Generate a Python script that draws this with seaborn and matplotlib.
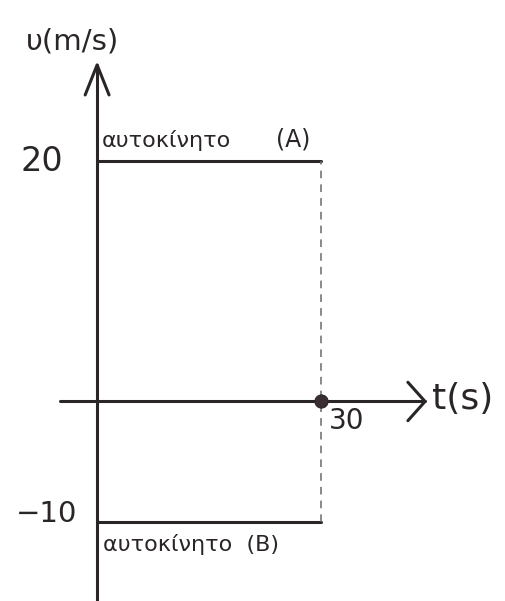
import matplotlib
matplotlib.use("Agg")
import matplotlib.pyplot as plt
import seaborn as sns
import pandas as pd

# Velocity–time data for the two cars
times = [0, 30]
speed_a = [20, 20]      # car A, m/s
speed_b = [-10, -10]    # car B, m/s
car_labels = ["αυτοκίνητο (A)", "αυτοκίνητο (B)"]
y_ticks = [20, -10]
x_ticks = [30]

sns.set_theme(style="white")
plt.rcParams["font.family"] = ["DejaVu Sans"]

df = pd.DataFrame({
    "t": times + times,
    "v": speed_a + speed_b,
    "car": [car_labels[0]] * 2 + [car_labels[1]] * 2,
})

fig = plt.figure(figsize=(5.05, 6.01), dpi=100)
ax = fig.add_axes([0, 0, 1, 1])
ax.set_xlim(-13.0, 54.6)
ax.set_ylim(-16.6, 33.4)
ax.axis("off")

ink = "#2a2526"
lw = 2.2

# Velocity lines
sns.lineplot(data=df, x="t", y="v", units="car", estimator=None,
             color=ink, linewidth=lw, ax=ax, legend=False)

# Time and velocity axes
ax.plot([-5, 43.9], [0, 0], color=ink, lw=lw, solid_capstyle="round")
ax.plot([0, 0], [-17.5, 28.0], color=ink, lw=lw, solid_capstyle="round")
# open arrow heads
ax.plot([41.6, 43.9, 41.6], [1.6, 0, -1.6], color=ink, lw=lw,
        solid_capstyle="round", solid_joinstyle="round")
ax.plot([-1.6, 0, 1.6], [25.5, 28.0, 25.5], color=ink, lw=lw,
        solid_capstyle="round", solid_joinstyle="round")

# Dashed guide at t = 30
ax.plot([x_ticks[0], x_ticks[0]], [speed_b[0], speed_a[0]],
        color="#6a6a6a", lw=1.1, ls=(0, (5, 4)))

# End point on the time axis
sns.scatterplot(x=[x_ticks[0]], y=[0], s=90, color="#3a2f30", ax=ax,
                zorder=5, edgecolor=ink)

# Tick labels
ax.text(-4.6, y_ticks[0], str(y_ticks[0]), ha="right", va="center",
        fontsize=24, color=ink)
ax.text(-2.6, y_ticks[1] + 0.6, "−" + str(abs(y_ticks[1])), ha="right",
        va="center", fontsize=21, color=ink)
ax.text(x_ticks[0] + 1.0, -0.5, str(x_ticks[0]), ha="left", va="top",
        fontsize=20, color=ink)

# Axis titles
ax.text(44.8, 0.2, "t(s)", ha="left", va="center", fontsize=26, color=ink)
ax.text(-3.3, 28.8, "υ(m/s)", ha="center", va="bottom", fontsize=21,
        color=ink)

# Car labels: name next to the line, tag set a little apart
name_a, tag_a = car_labels[0].rsplit(" ", 1)
name_b, tag_b = car_labels[1].rsplit(" ", 1)
ax.text(0.6, speed_a[0] + 0.8, name_a, ha="left", va="bottom",
        fontsize=16, color=ink)
ax.text(24.0, speed_a[0] + 0.8, tag_a, ha="left", va="bottom",
        fontsize=17, color=ink)
ax.text(0.8, speed_b[0] - 1.0, name_b + "  " + tag_b, ha="left", va="top",
        fontsize=16, color=ink)

fig.savefig("out.png", dpi=100, facecolor="white")
